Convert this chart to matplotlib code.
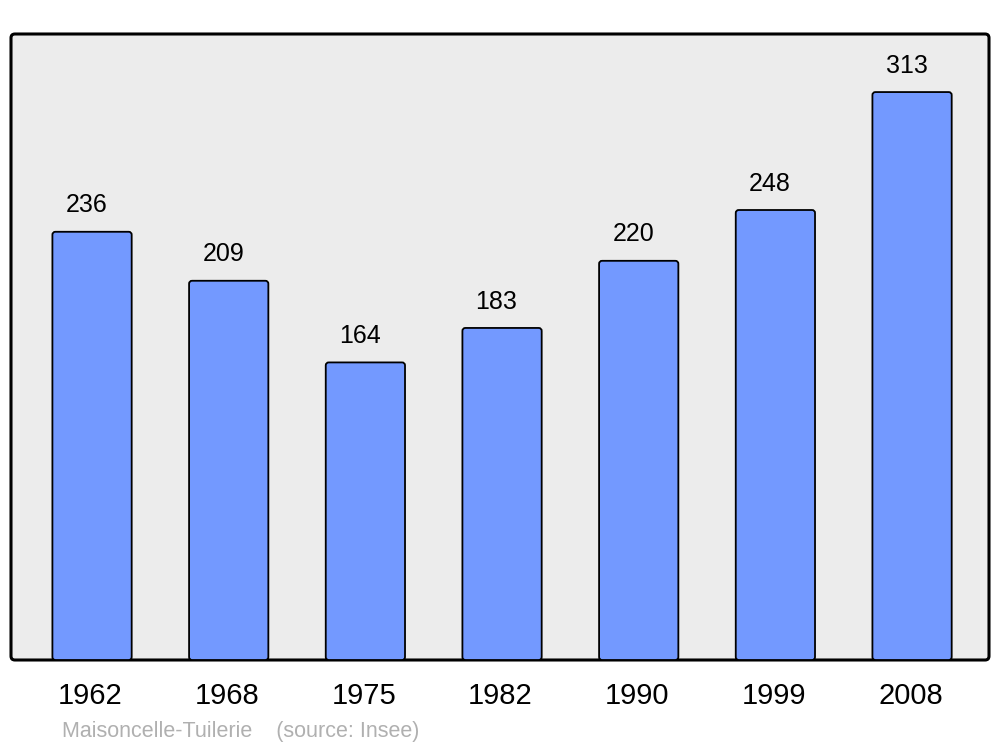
import matplotlib
matplotlib.use('Agg')
import matplotlib.pyplot as plt
from matplotlib.patches import FancyBboxPatch
from matplotlib.transforms import ScaledTranslation

plt.rcParams['font.family'] = ['Liberation Sans', 'DejaVu Sans']

years = ['1962', '1968', '1975', '1982', '1990', '1999', '2008']
population = [236, 209, 164, 183, 220, 248, 313]
title = 'Maisoncelle-Tuilerie    (source: Insee)'

fig = plt.figure(figsize=(10, 7.47), dpi=100)
ax = fig.add_axes([0.011, 87 / 747, 0.978, 626 / 747])
ax.set_xlim(-0.593, 6.563)
ax.set_ylim(0, 345)
ax.patch.set_visible(False)
for s in ax.spines.values():
    s.set_visible(False)

# rounded frame
frame = FancyBboxPatch((0, 0), 1, 1, boxstyle='round,pad=0,rounding_size=0.004',
                       mutation_aspect=978 / 626, transform=ax.transAxes,
                       facecolor='#ececec', edgecolor='black', linewidth=2.2,
                       clip_on=False, zorder=0)
ax.add_patch(frame)

w = 0.58
bars = ax.bar(range(len(years)), population, width=w, alpha=0)
for b, v in zip(bars, population):
    p = FancyBboxPatch((b.get_x(), 0), b.get_width(), b.get_height(),
                       boxstyle='round,pad=0,rounding_size=0.022',
                       mutation_aspect=75, facecolor='#7399ff',
                       edgecolor='black', linewidth=1.3, zorder=2)
    ax.add_patch(p)
    ax.annotate(str(v), (b.get_x() + b.get_width() / 2, v), xytext=(-4, 19),
                textcoords='offset points', ha='center', va='center', fontsize=18)

ax.set_xticks(range(len(years)))
ax.set_xticklabels(years, fontsize=21)
ax.tick_params(axis='x', length=0, pad=16)
ax.set_yticks([])
shift = ScaledTranslation(-1.5 / 100, 0, fig.dpi_scale_trans)
for t in ax.get_xticklabels():
    t.set_transform(t.get_transform() + shift)

fig.text(0.062, 1 - 732 / 747, title, fontsize=15.5, color='#b0b0b0',
         ha='left', va='center')

plt.savefig('out.png', dpi=100)
plt.close()
